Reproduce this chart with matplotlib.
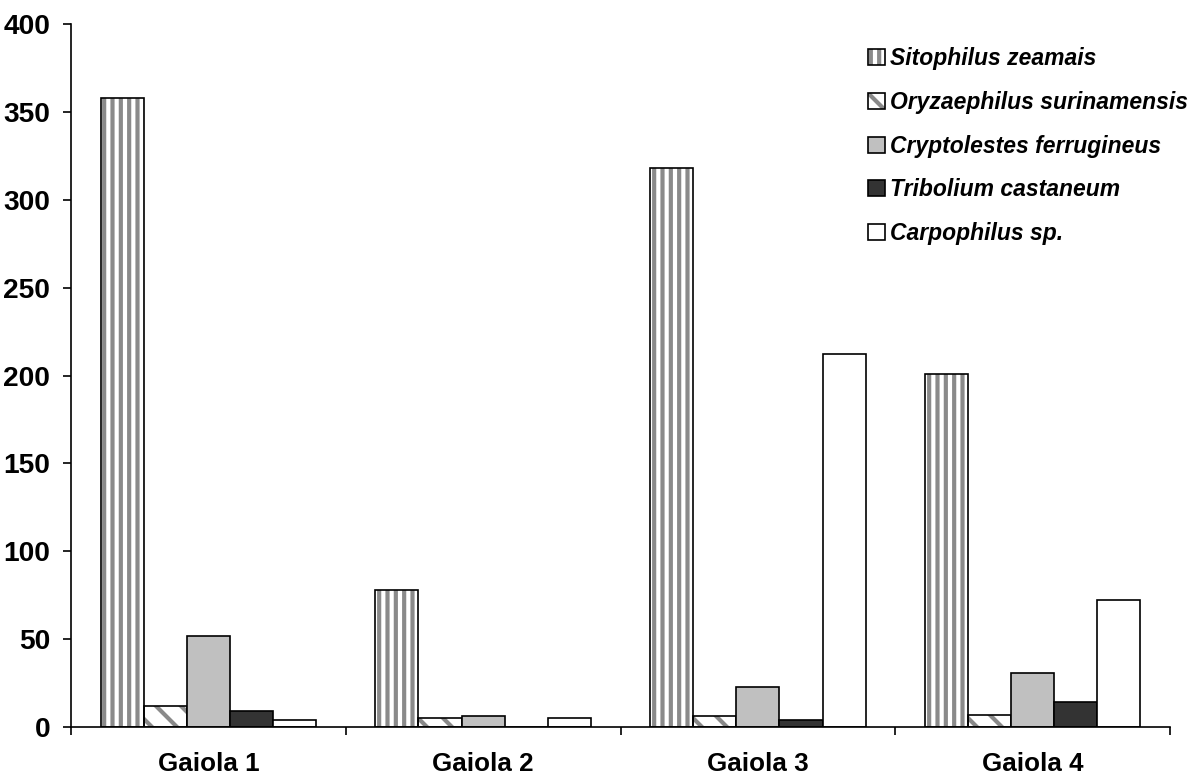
import numpy as np
import matplotlib.pyplot as plt
from matplotlib.patches import Patch
from matplotlib.legend_handler import HandlerTuple

gaiolas = ['Gaiola 1', 'Gaiola 2', 'Gaiola 3', 'Gaiola 4']
especies = ['Sitophilus zeamais', 'Oryzaephilus surinamensis',
            'Cryptolestes ferrugineus', 'Tribolium castaneum', 'Carpophilus sp.']
sitophilus = [358, 78, 318, 201]
oryzaephilus = [12, 5, 6, 7]
cryptolestes = [52, 6, 23, 31]
tribolium = [9, 0, 4, 14]
carpophilus = [4, 5, 212, 72]
series = [sitophilus, oryzaephilus, cryptolestes, tribolium, carpophilus]

# fill, hatch for each species
cores = ['white', 'white', '#c0c0c0', '#333333', 'white']
hatches = ['|||', '\\\\', None, None, None]

fonte = ['Liberation Sans', 'DejaVu Sans']
plt.rcParams['font.family'] = fonte
plt.rcParams['hatch.linewidth'] = 2.0

DPI = 150
fig = plt.figure(figsize=(1201 / DPI, 778 / DPI), dpi=DPI)
ax = fig.add_axes([71 / 1201, 51 / 778, 1099 / 1201, 703 / 778])

x = np.arange(len(gaiolas))
w = 0.157
handles = []
for i, vals in enumerate(series):
    pos = x + (i - 2) * w
    if hatches[i]:
        ax.bar(pos, vals, w, color='white', edgecolor='#8a8a8a', hatch=hatches[i],
               linewidth=0, zorder=2)
        ax.bar(pos, vals, w, fill=False, edgecolor='black', linewidth=0.8, zorder=3)
        h = (Patch(facecolor='white', edgecolor='#8a8a8a', hatch=hatches[i], linewidth=0),
             Patch(fill=False, edgecolor='black', linewidth=0.8))
    else:
        ax.bar(pos, vals, w, color=cores[i], edgecolor='black', linewidth=0.8, zorder=3)
        h = Patch(facecolor=cores[i], edgecolor='black', linewidth=0.8)
    handles.append(h)

ax.set_xlim(-0.5, 3.5)
ax.set_ylim(0, 400)
ax.set_yticks(range(0, 401, 50))
ax.set_xticks(x)
ax.set_xticklabels(gaiolas)
ax.set_xticks(np.arange(-0.5, 4, 1), minor=True)
ax.tick_params(axis='x', which='major', length=0, pad=12)
ax.tick_params(axis='x', which='minor', length=4, width=0.8, direction='out')
ax.tick_params(axis='y', length=4, width=0.8, direction='out', pad=6)
for lab in ax.get_xticklabels():
    lab.set_fontsize(12.5)
    lab.set_fontweight('bold')
for lab in ax.get_yticklabels():
    lab.set_fontsize(13.5)
    lab.set_fontweight('bold')
for s in ['top', 'right']:
    ax.spines[s].set_visible(False)
for s in ['left', 'bottom']:
    ax.spines[s].set_linewidth(0.8)
    ax.spines[s].set_zorder(4)

leg = ax.legend(handles, especies, handler_map={tuple: HandlerTuple(ndivide=1, pad=0)},
                loc='upper left', bbox_to_anchor=(857 / 1201, 1 - 36 / 778),
                bbox_transform=fig.transFigure, frameon=False, borderpad=0,
                handlelength=0.7, handleheight=0.7, handletextpad=0.25,
                labelspacing=0.9,
                prop={'family': fonte, 'size': 11, 'weight': 'bold', 'style': 'italic'})

fig.savefig('out.png', dpi=DPI)
